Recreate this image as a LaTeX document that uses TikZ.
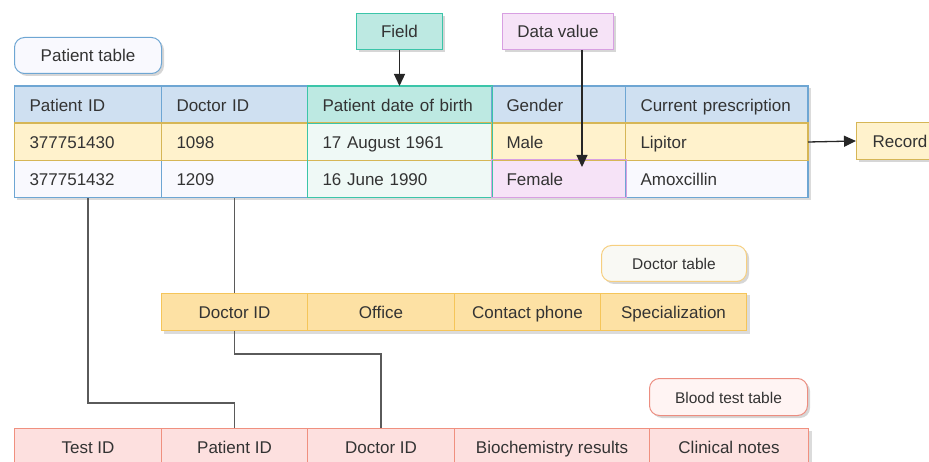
\documentclass[tikz,border=0pt]{standalone}
\usepackage{fontspec}
\setmainfont{Liberation Sans}
\usetikzlibrary{arrows.meta,shadows,backgrounds}
\definecolor{txt}{HTML}{333333}
\definecolor{bfill}{HTML}{CFE0F1}
\definecolor{bline}{HTML}{6EA6D3}
\definecolor{wfill}{HTML}{F9F9FE}
\definecolor{yfill}{HTML}{FFF2CC}
\definecolor{yline}{HTML}{D6B656}
\definecolor{thead}{HTML}{BDE9E2}
\definecolor{tcell}{HTML}{EFF9F6}
\definecolor{tline}{HTML}{3BC5A9}
\definecolor{pkfill}{HTML}{F6E3F7}
\definecolor{pkline}{HTML}{D89FE2}
\definecolor{dfill}{HTML}{FDE1A4}
\definecolor{dline}{HTML}{F5C55A}
\definecolor{dlfill}{HTML}{F9F9F4}
\definecolor{dlline}{HTML}{F6CF80}
\definecolor{rfill}{HTML}{FDE0DF}
\definecolor{rline}{HTML}{F0907F}
\definecolor{rlfill}{HTML}{FFF4F3}
\definecolor{rlline}{HTML}{EC8D80}
\definecolor{connc}{HTML}{5A5A5A}
\definecolor{arrc}{HTML}{262626}
\begin{document}
\begin{tikzpicture}[x=1pt,y=-1pt,
  every node/.style={text=txt, font=\fontsize{17}{20}\selectfont},
  lcell/.style={draw, line width=1pt, anchor=north west, minimum height=37pt, inner xsep=15pt, inner ysep=0pt, align=left, text width=#1, text height=16pt, text depth=3pt},
  ccell/.style={draw, line width=1pt, anchor=north west, minimum height=37pt, inner sep=0pt, align=center, minimum width=#1, text height=16pt, text depth=3pt},
  tagbox/.style={draw, line width=1pt, anchor=north west, minimum height=36pt, inner sep=0pt, align=center, minimum width=#1, text height=15pt, text depth=3pt, drop shadow={shadow xshift=2.5pt, shadow yshift=-2.5pt, fill=black, opacity=0.16}},
  roundtag/.style={tagbox=#1, rounded corners=10pt},
  shade/.style={fill=black, opacity=0.14},
  conn/.style={draw=connc, line width=1.4pt},
  arr/.style={draw=arrc, line width=1.3pt, -{Triangle[length=12pt,width=11pt]}}
]
\useasboundingbox (0,0) rectangle (929,462);

% labels
\node[roundtag=147pt, fill=wfill, draw=bline] (ptl) at (14,37) {Patient table};
\node[tagbox=86pt, fill=thead, draw=tline] (field) at (356,13) {Field};
\node[tagbox=111pt, fill=pkfill, draw=pkline] (dval) at (502,13) {Data value};

% patient table
\node[lcell=117pt, fill=bfill, draw=bline] (pH1) at (14,86) {Patient ID};
\node[lcell=116pt, fill=bfill, draw=bline] (pH2) at (161,86) {Doctor ID};
\node[lcell=154pt, fill=thead, draw=tline] (pH3) at (307,86) {Patient date of birth};
\node[lcell=104pt, fill=bfill, draw=bline] (pH4) at (491,86) {Gender};
\node[lcell=152pt, fill=bfill, draw=bline] (pH5) at (625,86) {Current prescription};

\node[lcell=117pt, fill=yfill, draw=yline] (pA1) at (14,123) {377751430};
\node[lcell=116pt, fill=yfill, draw=yline] (pA2) at (161,123) {1098};
\node[lcell=154pt, fill=tcell, draw=tline] (pA3) at (307,123) {17 August 1961};
\node[lcell=104pt, fill=yfill, draw=yline] (pA4) at (491,123) {Male};
\node[lcell=152pt, fill=yfill, draw=yline] (pA5) at (625,123) {Lipitor};

\node[lcell=117pt, fill=wfill, draw=bline] (pB1) at (14,160) {377751432};
\node[lcell=116pt, fill=wfill, draw=bline] (pB2) at (161,160) {1209};
\node[lcell=154pt, fill=tcell, draw=tline] (pB3) at (307,160) {16 June 1990};
\node[lcell=104pt, fill=pkfill, draw=pkline] (pB4) at (491,160) {Female};
\node[lcell=152pt, fill=wfill, draw=bline] (pB5) at (625,160) {Amoxcillin};

\draw[bline, line width=1pt] (pH1.north west) rectangle (pB5.south east);
\draw[yline, line width=1pt] (pA1.north west) rectangle (pA5.south east);
\draw[tline, line width=1pt] (pH3.north west) rectangle (pB3.south east);
\draw[pkline, line width=1pt] (pB4.north west) rectangle (pB4.south east);

\begin{scope}[on background layer]
\fill[shade] ([xshift=2.5pt,yshift=-2.5pt]pH1.north west) rectangle ([xshift=2.5pt,yshift=-2.5pt]pB5.south east);
\end{scope}

% record
\node[tagbox=87pt, minimum height=37pt, fill=yfill, draw=yline, text height=16pt] (rec) at (856,122) {Record};

% arrows
\coordinate (dvtip) at (582,167);
\draw[arr] (field.south) -- (pH3.north);
\draw[arr] (dval.south -| dvtip) -- (dvtip);
\draw[arr] (pA5.east) -- (rec.west);

% doctor table
\node[roundtag=145pt, fill=dlfill, draw=dlline, font=\fontsize{15.5}{18}\selectfont] (dtl) at (601,245) {Doctor table};
\node[ccell=146pt, fill=dfill, draw=dline] (dt1) at (161,293) {Doctor ID};
\node[ccell=147pt, fill=dfill, draw=dline] (dt2) at (307,293) {Office};
\node[ccell=146pt, fill=dfill, draw=dline] (dt3) at (454,293) {Contact phone};
\node[ccell=146pt, fill=dfill, draw=dline] (dt4) at (600,293) {Specialization};

% blood test table
\node[roundtag=158pt, minimum height=37pt, fill=rlfill, draw=rlline, font=\fontsize{15.5}{18}\selectfont] (btl) at (649,378) {Blood test table};
\node[ccell=147pt, fill=rfill, draw=rline] (bt1) at (14,428) {Test ID};
\node[ccell=146pt, fill=rfill, draw=rline] (bt2) at (161,428) {Patient ID};
\node[ccell=147pt, fill=rfill, draw=rline] (bt3) at (307,428) {Doctor ID};
\node[ccell=195pt, fill=rfill, draw=rline] (bt4) at (454,428) {Biochemistry results};
\node[ccell=159pt, fill=rfill, draw=rline] (bt5) at (649,428) {Clinical notes};

\begin{scope}[on background layer]
\fill[shade] ([xshift=2.5pt,yshift=-2.5pt]dt1.north west) rectangle ([xshift=2.5pt,yshift=-2.5pt]dt4.south east);
\fill[shade] ([xshift=2.5pt,yshift=-2.5pt]bt1.north west) rectangle ([xshift=2.5pt,yshift=-2.5pt]bt5.south east);
\end{scope}

% connectors
\draw[conn] (pB2.south) -- (dt1.north);
\draw[conn] (dt1.south) |- ([yshift=74pt]bt3.north) -- (bt3.north);
\draw[conn] (pB1.south) |- ([yshift=25pt]bt2.north) -- (bt2.north);
\end{tikzpicture}
\end{document}
